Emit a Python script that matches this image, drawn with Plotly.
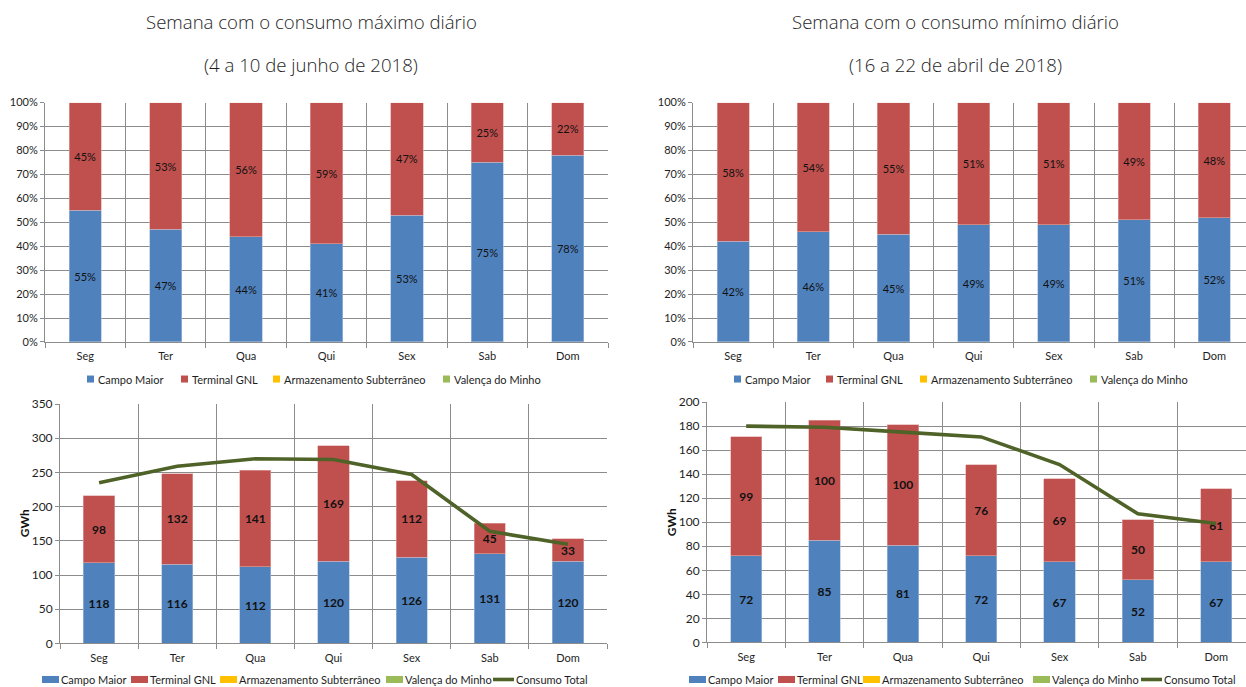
import plotly.graph_objects as go

# ---- data -------------------------------------------------------------
DIAS = ["Seg", "Ter", "Qua", "Qui", "Sex", "Sab", "Dom"]

# week with the maximum daily consumption (4-10 June 2018)
PCT_CAMPO_MAX = [55, 47, 44, 41, 53, 75, 78]
PCT_GNL_MAX = [45, 53, 56, 59, 47, 25, 22]
GWH_CAMPO_MAX = [118, 116, 112, 120, 126, 131, 120]
GWH_GNL_MAX = [98, 132, 141, 169, 112, 45, 33]
TOTAL_MAX = [235, 259, 270, 269, 247, 164, 145]

# week with the minimum daily consumption (16-22 April 2018)
PCT_CAMPO_MIN = [42, 46, 45, 49, 49, 51, 52]
PCT_GNL_MIN = [58, 54, 55, 51, 51, 49, 48]
GWH_CAMPO_MIN = [72, 85, 81, 72, 67, 52, 67]
GWH_GNL_MIN = [99, 100, 100, 76, 69, 50, 61]
TOTAL_MIN = [180, 179, 175, 171, 148, 107, 99]

# entry points with no flow in either week
ARMAZENAMENTO = [0, 0, 0, 0, 0, 0, 0]
VALENCA = [0, 0, 0, 0, 0, 0, 0]

TITLES = [
    ("Semana com o consumo máximo diário", "(4 a 10 de junho de 2018)"),
    ("Semana com o consumo mínimo diário", "(16 a 22 de abril de 2018)"),
]

# ---- styling ------------------------------------------------------------
W, H = 1246, 695
BLUE, RED, YELLOW, GREEN, OLIVE = "#4F81BD", "#C0504D", "#FFC000", "#9BBB59", "#4F6228"
GRID = "#8C8C8C"
TXT = "#1E1E1E"
FONT = "Lato"


def px(x):
    return x / W


def py(y):
    # layout positions are given in screen pixels of the final page
    y_fig = (y - 8.5) / 0.977
    return 1 - y_fig / H


fig = go.Figure()


def add_bars(xa, ya, campo, gnl, pct, bold):
    tfont = dict(family=FONT, size=12 if bold else 11, color="#111111",
                 weight="bold" if bold else "normal")
    for vals, name, col, edge in ((campo, "Campo Maior", BLUE, "#A9C0DE"),
                                  (gnl, "Terminal GNL", RED, "#E0A8A6")):
        labels = [f"{v}%" if pct else f"{v}" for v in vals]
        fig.add_trace(go.Bar(x=DIAS, y=vals, name=name, xaxis=xa, yaxis=ya,
                             text=labels, texttemplate="%{text}", textposition="inside",
                             insidetextanchor="middle", textangle=0, textfont=tfont,
                             marker=dict(color=col, line=dict(width=0.6, color=edge)),
                             showlegend=False, hoverinfo="skip"))
    for vals, name, col in ((ARMAZENAMENTO, "Armazenamento Subterrâneo", YELLOW),
                            (VALENCA, "Valença do Minho", GREEN)):
        fig.add_trace(go.Bar(x=DIAS, y=vals, name=name, xaxis=xa, yaxis=ya,
                             marker=dict(color=col, line=dict(width=0)),
                             showlegend=False, hoverinfo="skip"))


add_bars("x", "y", PCT_CAMPO_MAX, PCT_GNL_MAX, True, False)
add_bars("x2", "y2", PCT_CAMPO_MIN, PCT_GNL_MIN, True, False)
add_bars("x3", "y3", GWH_CAMPO_MAX, GWH_GNL_MAX, False, True)
add_bars("x4", "y4", GWH_CAMPO_MIN, GWH_GNL_MIN, False, True)

for xa, ya, tot in (("x3", "y3", TOTAL_MAX), ("x4", "y4", TOTAL_MIN)):
    fig.add_trace(go.Scatter(x=DIAS, y=tot, xaxis=xa, yaxis=ya, mode="lines",
                             name="Consumo Total", line=dict(color=OLIVE, width=3.6),
                             showlegend=False, hoverinfo="skip"))


def xaxis(domain, rng, anchor):
    return dict(domain=domain, anchor=anchor, type="category", range=rng,
                tickson="boundaries", ticks="outside", ticklen=5, tickcolor=GRID,
                ticklabelstandoff=4,
                showgrid=True, gridcolor=GRID, gridwidth=1, showline=True,
                linecolor=GRID, linewidth=1, zeroline=False,
                tickfont=dict(family=FONT, size=11, color=TXT), fixedrange=True)


def yaxis(domain, rng, dtick, suffix, anchor, size):
    return dict(domain=domain, anchor=anchor, range=rng, dtick=dtick, ticksuffix=suffix,
                ticks="outside", ticklen=4, tickcolor=GRID, showgrid=True, gridcolor=GRID,
                gridwidth=1, showline=True, linecolor=GRID, linewidth=1, zeroline=False,
                tickfont=dict(family=FONT, size=size, color=TXT), fixedrange=True)


# plot-area boundaries in page pixels
TL = dict(x0=45, x1=608, y0=103, y1=342)
TR = dict(x0=693, x1=1246, y0=103, y1=342)
BL = dict(x0=60, x1=607, y0=404, y1=643)
BR = dict(x0=707, x1=1246, y0=402, y1=642)


def dom(b):
    return [px(b["x0"]), px(b["x1"])], [py(b["y1"]), py(b["y0"])]


tlx, tly = dom(TL)
trx, try_ = dom(TR)
blx, bly = dom(BL)
brx, bry = dom(BR)

layout_axes = dict(
    xaxis=xaxis(tlx, [-0.5, 6.5], "y"),
    yaxis=yaxis(tly, [0, 100], 10, "%", "x", 11),
    xaxis2=xaxis(trx, [-0.5, 6.395], "y2"),
    yaxis2=yaxis(try_, [0, 100], 10, "%", "x2", 11),
    xaxis3=xaxis(blx, [-0.5, 6.5], "y3"),
    yaxis3=yaxis(bly, [0, 350], 50, "", "x3", 12),
    xaxis4=xaxis(brx, [-0.5, 6.38], "y4"),
    yaxis4=yaxis(bry, [0, 200], 20, "", "x4", 12),
)

annotations = []
shapes = []

# chart titles
for cx, (t1, t2) in zip((311, 955), TITLES):
    for ty, txt in ((22, t1), (65, t2)):
        annotations.append(dict(x=px(cx), y=py(ty), xref="paper", yref="paper", text=txt,
                                showarrow=False, xanchor="center", yanchor="middle",
                                font=dict(family="Open Sans", size=18.6, color=TXT, weight=300)))

# y-axis titles of the GWh charts
for gx, gy in ((24, 523), (671, 522)):
    annotations.append(dict(x=px(gx), y=py(gy), xref="paper", yref="paper", text="GWh",
                            textangle=-90, showarrow=False, xanchor="center", yanchor="middle",
                            font=dict(family=FONT, size=12, color="#111111", weight="bold")))


def legend_text(x, y, txt):
    annotations.append(dict(x=px(x), y=py(y), xref="paper", yref="paper", text=txt,
                            showarrow=False, xanchor="left", yanchor="middle",
                            font=dict(family=FONT, size=11, color=TXT)))


def swatch(x0, x1, y, h, color):
    shapes.append(dict(type="rect", xref="paper", yref="paper", x0=px(x0), x1=px(x1),
                       y0=py(y + h / 2), y1=py(y - h / 2), fillcolor=color,
                       line=dict(width=0)))


SERIES = [("Campo Maior", BLUE), ("Terminal GNL", RED),
          ("Armazenamento Subterrâneo", YELLOW), ("Valença do Minho", GREEN)]

# legends of the percentage charts (small square markers)
for starts in ((87, 181, 273, 443), (734, 826, 920, 1090)):
    for s, (name, col) in zip(starts, SERIES):
        swatch(s, s + 7, 379, 7, col)
        legend_text(s + 9, 379, name)

# legends of the GWh charts (wide swatches + line for the total)
LEG_Y = 679
for starts, line_x in (((42, 131, 220, 386), 493), ((689, 778, 863, 1033), 1141)):
    for s, (name, col) in zip(starts, SERIES):
        swatch(s, s + 17, LEG_Y, 7, col)
        legend_text(s + 17, LEG_Y, name)
    shapes.append(dict(type="line", xref="paper", yref="paper", x0=px(line_x),
                       x1=px(line_x + 21), y0=py(LEG_Y), y1=py(LEG_Y),
                       line=dict(color=OLIVE, width=3.6)))
    legend_text(line_x + 21, LEG_Y, "Consumo Total")

fig.update_layout(
    width=W, height=H, margin=dict(l=0, r=0, t=0, b=0),
    paper_bgcolor="white", plot_bgcolor="white",
    barmode="stack", bargap=0.6, showlegend=False,
    uniformtext=dict(minsize=11, mode="show"),
    annotations=annotations, shapes=shapes,
    **layout_axes,
)

fig.write_html("out.html")
